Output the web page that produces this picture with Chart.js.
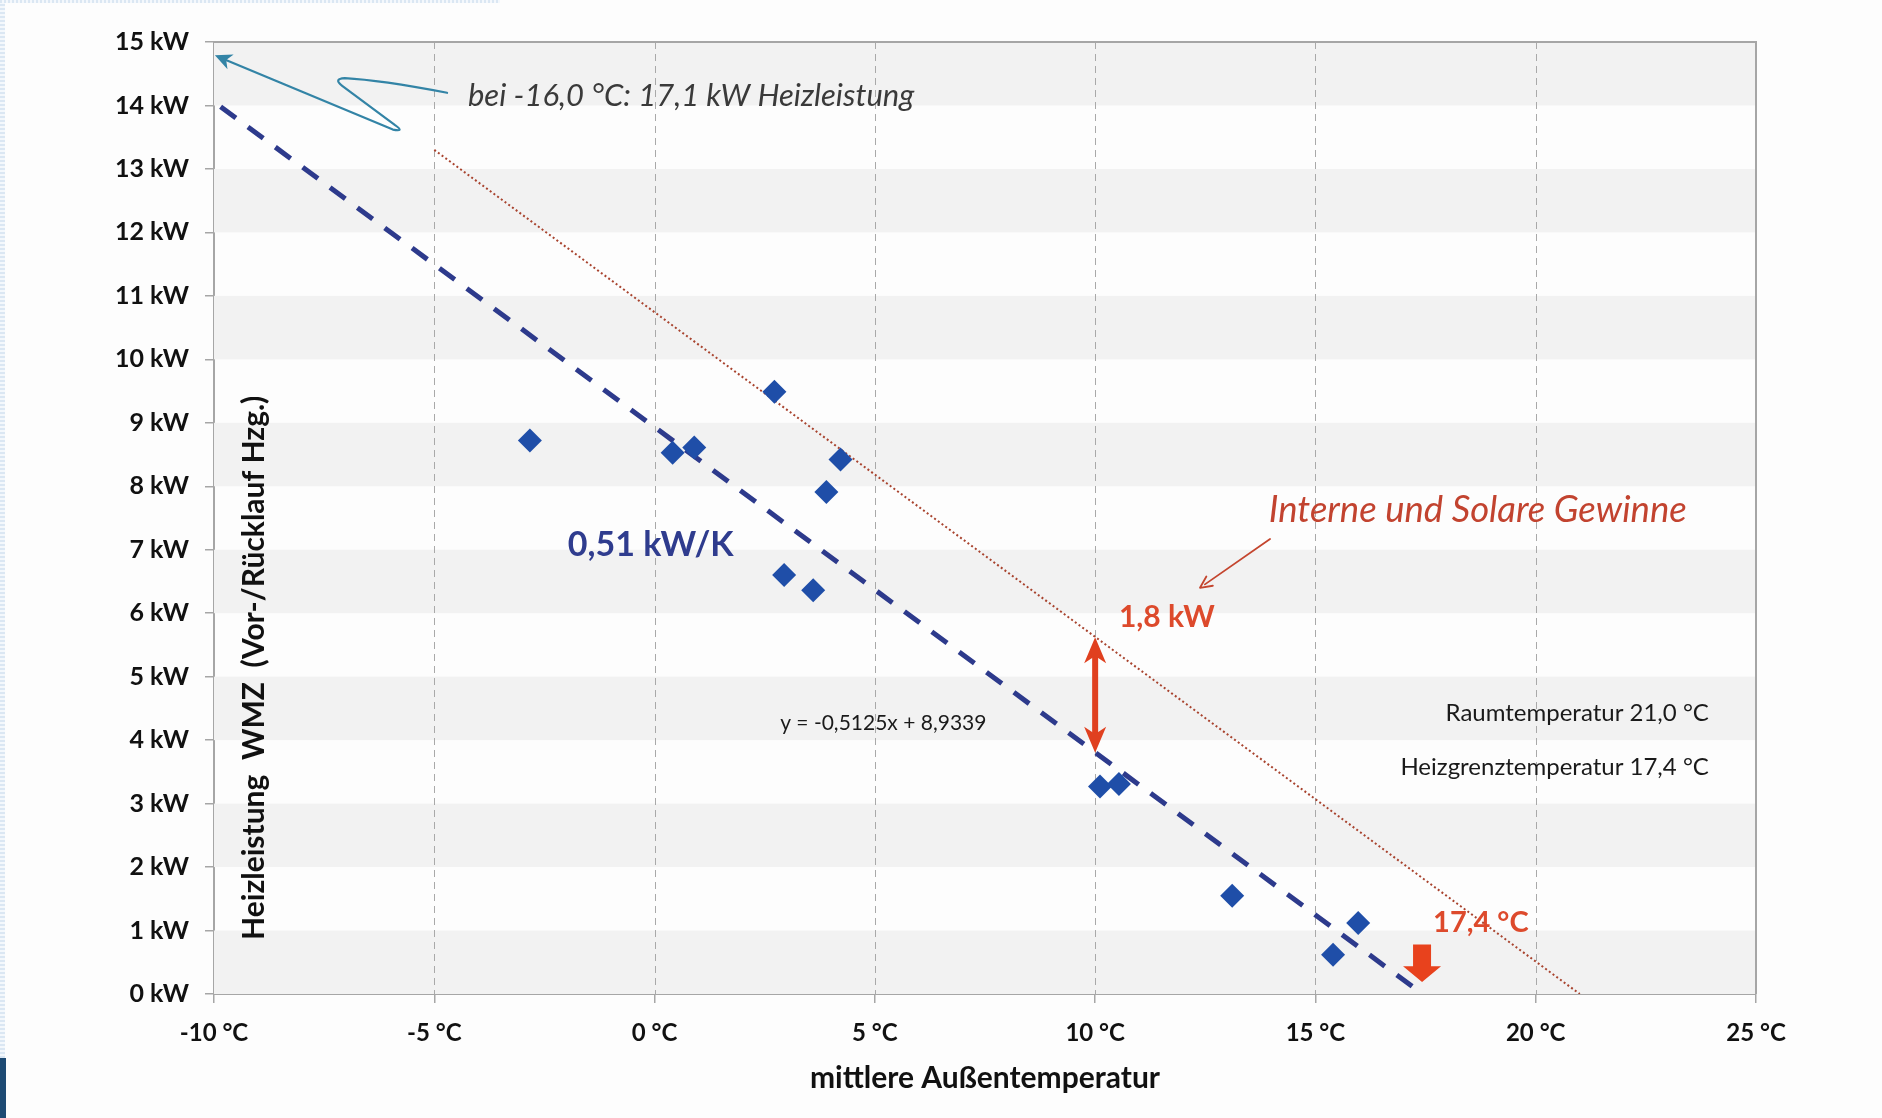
<!DOCTYPE html>
<html><head><meta charset="utf-8">
<script src="https://cdn.jsdelivr.net/npm/chart.js@4.4.1/dist/chart.umd.min.js"></script>
<style>
html,body{margin:0;padding:0;background:#fdfdfd;}
#wrap{position:relative;width:1882px;height:1118px;overflow:hidden;}
canvas{display:block;}
#edgeL{position:absolute;left:0;top:0;width:5px;height:1118px;background:repeating-linear-gradient(#dbe7f3 0 2px,#f4f8fc 2px 4px);}
#edgeT{position:absolute;left:0;top:0;width:500px;height:3px;background:repeating-linear-gradient(90deg,#dbe7f3 0 2px,#f4f8fc 2px 4px);}
#blob{position:absolute;left:0;top:1058px;width:6px;height:60px;background:#1d4a73;}
</style></head><body>
<div id="wrap"><canvas id="c" width="1882" height="1118"></canvas><div id="edgeL"></div><div id="edgeT"></div><div id="blob"></div></div>
<script>
// ---- data ----
const tempX  = [-2.83, 0.41, 0.90, 2.72, 4.22, 3.90, 2.94, 3.60, 10.11, 10.54, 13.11, 15.40, 15.97];
const powerY = [ 8.72, 8.53, 8.61, 9.49, 8.42, 7.91, 6.60, 6.36,  3.27,  3.31,  1.55,  0.62,  1.12];
const trendX = [-9.85, 17.43];
const trendY = [13.98, 0];
const gainsX = [-5, 21];
const gainsY = [13.3, 0];
const xTickValues = [-10, -5, 0, 5, 10, 15, 20, 25];
const yTickValues = [0, 1, 2, 3, 4, 5, 6, 7, 8, 9, 10, 11, 12, 13, 14, 15];
const xUnit = ' °C';
const yUnit = ' kW';
const gapAt = 10, gapLow = 3.80, gapHigh = 5.62;     // 1,8 kW double arrow
const limitTemp = 17.42, limitArrowTop = 0.78, limitArrowTip = 0.19;

// ---- annotation texts (positions in data units) ----
const notes = [
  {t:'bei -16,0 °C: 17,1 kW Heizleistung', x:-4.235, y:14.15, a:'left',  f:'italic 31px Lato', c:'#3a3a3a'},
  {t:'0,51 kW/K',                           x:-1.97,  y:7.07,  a:'left',  f:'bold 34px Lato',   c:'#2f3c8e'},
  {t:'y = -0,5125x + 8,9339',               x:2.85,   y:4.27,  a:'left',  f:'21px Lato',        c:'#1a1a1a'},
  {t:'Interne und Solare Gewinne',          x:13.94,  y:7.63,  a:'left',  f:'italic 36.5px Lato', c:'#c2432f'},
  {t:'1,8 kW',                              x:10.54,  y:5.94,  a:'left',  f:'bold 30px Lato',   c:'#dd4a2c'},
  {t:'Raumtemperatur 21,0 °C',              x:23.93,  y:4.43,  a:'right', f:'24px Lato',        c:'#1a1a1a'},
  {t:'Heizgrenztemperatur 17,4 °C',         x:23.93,  y:3.58,  a:'right', f:'24px Lato',        c:'#1a1a1a'},
  {t:'17,4 °C',                             x:17.67,  y:1.13,  a:'left',  f:'bold 29px Lato',   c:'#dd4a2c'}
];
const yTitle = {t:'Heizleistung  WMZ  (Vor-/Rücklauf Hzg.)', x:-9.09, y:5.14, f:'bold 30px Lato', c:'#111'};
// squiggle arrow path (data units)
const squiggle = {
  start:[-4.71,14.20],
  q1:[[-6.23,14.40],[-7.03,14.43]],
  q2:[[-7.30,14.42],[-7.09,14.31]],
  l1:[-5.89,13.69],
  q3:[[-5.66,13.58],[-5.94,13.62]],
  tip:[-9.98,14.79]
};
const thinArrow = {from:[13.97,7.17], to:[12.38,6.40]};

const bandsPlugin = {
  id:'bands',
  beforeDatasetsDraw(chart){
    const {ctx, chartArea:ca, scales:{x,y}} = chart;
    ctx.save();
    ctx.fillStyle = '#f2f2f2';
    for (let i = 0; i < 15; i += 2) {
      const t = y.getPixelForValue(i+1), b = y.getPixelForValue(i);
      ctx.fillRect(ca.left, t, ca.right-ca.left, b-t);
    }
    ctx.strokeStyle = '#a9a9a9';
    ctx.lineWidth = 1;
    ctx.setLineDash([7,5]);
    xTickValues.forEach(v => {
      if (v === xTickValues[0] || v === xTickValues[xTickValues.length-1]) return;
      const px = Math.round(x.getPixelForValue(v)) + 0.5;
      ctx.beginPath(); ctx.moveTo(px, ca.top); ctx.lineTo(px, ca.bottom); ctx.stroke();
    });
    ctx.setLineDash([]);
    ctx.strokeStyle = '#a6a6a6';
    ctx.lineWidth = 2;
    ctx.beginPath();
    ctx.moveTo(ca.left, ca.top); ctx.lineTo(ca.right, ca.top); ctx.lineTo(ca.right, ca.bottom);
    ctx.stroke();
    ctx.restore();
  }
};

function arrowHead(ctx, tx, ty, ang, len, hw, color){
  const c = Math.cos(ang), s = Math.sin(ang);
  const P = (a,b) => [tx + a*c - b*s, ty + a*s + b*c];
  const p1 = P(0,0), p2 = P(-len, hw), p3 = P(-len*0.72, 0), p4 = P(-len, -hw);
  ctx.fillStyle = color;
  ctx.beginPath();
  ctx.moveTo(...p1); ctx.lineTo(...p2); ctx.lineTo(...p3); ctx.lineTo(...p4); ctx.closePath();
  ctx.fill();
}

const notesPlugin = {
  id:'notes',
  afterDatasetsDraw(chart){
    const {ctx, scales:{x,y}} = chart;
    const X = v => x.getPixelForValue(v), Y = v => y.getPixelForValue(v);
    const P = p => [X(p[0]), Y(p[1])];
    ctx.save();

    // squiggle arrow
    ctx.strokeStyle = '#3384a6'; ctx.lineWidth = 2.2; ctx.lineJoin='round'; ctx.lineCap='round';
    ctx.beginPath();
    ctx.moveTo(...P(squiggle.start));
    ctx.quadraticCurveTo(...P(squiggle.q1[0]), ...P(squiggle.q1[1]));
    ctx.quadraticCurveTo(...P(squiggle.q2[0]), ...P(squiggle.q2[1]));
    ctx.lineTo(...P(squiggle.l1));
    ctx.quadraticCurveTo(...P(squiggle.q3[0]), ...P(squiggle.q3[1]));
    const tp = P(squiggle.tip), lp = P(squiggle.q3[1]);
    const ang1 = Math.atan2(tp[1]-lp[1], tp[0]-lp[0]);
    ctx.lineTo(tp[0] - Math.cos(ang1)*10, tp[1] - Math.sin(ang1)*10);
    ctx.stroke();
    arrowHead(ctx, tp[0], tp[1], ang1, 17, 8, '#3384a6');

    // thin red arrow
    const f = P(thinArrow.from), t = P(thinArrow.to);
    const ang2 = Math.atan2(t[1]-f[1], t[0]-f[0]);
    ctx.strokeStyle = '#c4452e'; ctx.lineWidth = 1.8;
    ctx.beginPath(); ctx.moveTo(...f); ctx.lineTo(t[0]-Math.cos(ang2)*6, t[1]-Math.sin(ang2)*6); ctx.stroke();
    ctx.beginPath();
    ctx.moveTo(t[0] - Math.cos(ang2-0.45)*13, t[1] - Math.sin(ang2-0.45)*13);
    ctx.lineTo(t[0], t[1]);
    ctx.lineTo(t[0] - Math.cos(ang2+0.45)*13, t[1] - Math.sin(ang2+0.45)*13);
    ctx.stroke();

    // 1,8 kW double arrow
    const ax = X(gapAt), aTop = Y(gapHigh), aBot = Y(gapLow);
    ctx.fillStyle = '#e0401f';
    ctx.fillRect(ax-3, aTop+18, 6, aBot-aTop-36);
    arrowHead(ctx, ax, aTop, -Math.PI/2, 26, 11, '#e0401f');
    arrowHead(ctx, ax, aBot,  Math.PI/2, 26, 11, '#e0401f');

    // heating limit block arrow
    const lx = X(limitTemp), lt = Y(limitArrowTop), lb = Y(limitArrowTip);
    const headTop = lt + (lb-lt)*0.58;
    ctx.fillStyle = '#e8421d';
    ctx.beginPath();
    ctx.moveTo(lx-9, lt); ctx.lineTo(lx+9, lt); ctx.lineTo(lx+9, headTop);
    ctx.lineTo(lx+19, headTop); ctx.lineTo(lx, lb); ctx.lineTo(lx-19, headTop);
    ctx.lineTo(lx-9, headTop); ctx.closePath(); ctx.fill();

    // texts
    ctx.textBaseline = 'middle';
    notes.forEach(n => {
      ctx.font = n.f; ctx.fillStyle = n.c; ctx.textAlign = n.a;
      ctx.fillText(n.t, X(n.x), Y(n.y));
    });
    ctx.save();
    ctx.translate(X(yTitle.x), Y(yTitle.y));
    ctx.rotate(-Math.PI/2);
    ctx.font = yTitle.f; ctx.fillStyle = yTitle.c; ctx.textAlign = 'center';
    ctx.fillText(yTitle.t, 0, 0);
    ctx.restore();
    ctx.restore();
  }
};

const points = tempX.map((v,i) => ({x:v, y:powerY[i]}));
const trend = trendX.map((v,i) => ({x:v, y:trendY[i]}));
const gains = gainsX.map((v,i) => ({x:v, y:gainsY[i]}));

function start(){
  new Chart(document.getElementById('c'), {
    type:'scatter',
    data:{datasets:[
      {label:'Messwerte', data:points, pointStyle:'rectRot', pointRadius:12, pointHoverRadius:12,
       backgroundColor:'#1f4ea8', borderColor:'#1f4ea8', borderWidth:0, showLine:false},
      {label:'Trend', data:trend, showLine:true, borderColor:'#2d3a8c', borderWidth:5,
       borderDash:[19,15], pointRadius:0, fill:false},
      {label:'Gewinne', data:gains, showLine:true, borderColor:'#a8432e', borderWidth:2,
       borderDash:[2,2.6], pointRadius:0, fill:false}
    ]},
    options:{
      responsive:false, animation:false, devicePixelRatio:1,
      layout:{padding:{top:42, right:126, left:0, bottom:0}},
      plugins:{legend:{display:false}, tooltip:{enabled:false}},
      scales:{
        x:{type:'linear', min:-10, max:25,
          afterBuildTicks: s => { s.ticks = xTickValues.map(v => ({value:v})); },
          afterFit: s => { s.height = 124; },
          ticks:{callback: v => v + xUnit, font:{family:'Lato', weight:'bold', size:24}, color:'#111', padding:16, maxRotation:0},
          grid:{drawOnChartArea:false, drawTicks:true, tickLength:9, color:'#a6a6a6', lineWidth:1.5},
          border:{display:true, color:'#a6a6a6', width:2},
          title:{display:true, text:'mittlere Außentemperatur', font:{family:'Lato', weight:'bold', size:30}, color:'#111', padding:{top:0, bottom:22}}
        },
        y:{type:'linear', min:0, max:15,
          afterBuildTicks: s => { s.ticks = yTickValues.map(v => ({value:v})); },
          afterFit: s => { s.width = 214; },
          ticks:{callback: v => v + yUnit, font:{family:'Lato', weight:'bold', size:25}, color:'#111', padding:16},
          grid:{drawOnChartArea:false, drawTicks:true, tickLength:9, color:'#a6a6a6', lineWidth:1.5},
          border:{display:true, color:'#a6a6a6', width:2}
        }
      }
    },
    plugins:[bandsPlugin, notesPlugin]
  });
}
Promise.all(['bold 25px Lato','24px Lato','italic 30px Lato'].map(f => document.fonts.load(f))).then(start, start);
</script>
</body></html>
